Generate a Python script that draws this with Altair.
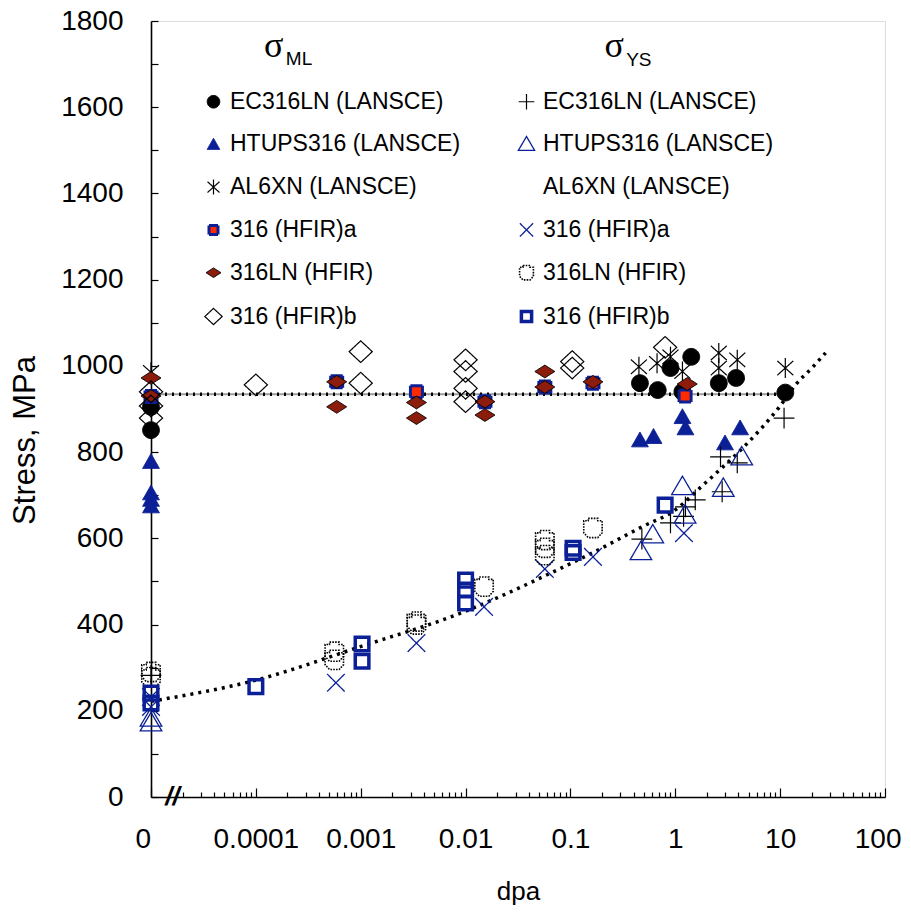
import altair as alt
import pandas as pd

# ---------------- data ----------------
ZERO_DPA = 1e-5  # where dose "0" sits on the broken log axis

# legend fills column by column: sigma_ML column first, then sigma_YS column
series_order = [
    "EC316LN (LANSCE) ML", "HTUPS316 (LANSCE) ML", "AL6XN (LANSCE) ML",
    "316 (HFIR)a ML", "316LN (HFIR) ML", "316 (HFIR)b ML",
    "EC316LN (LANSCE) YS", "HTUPS316 (LANSCE) YS", "AL6XN (LANSCE) YS",
    "316 (HFIR)a YS", "316LN (HFIR) YS", "316 (HFIR)b YS",
]

ec_ml_dpa = [0, 0, 0.46, 0.68, 0.9, 1.17, 1.42, 2.6, 3.8, 11.2]
ec_ml_mpa = [851, 905, 960, 944, 995, 940, 1021, 960, 972, 938]

ht_ml_dpa = [0, 0, 0, 0, 0.46, 0.62, 1.17, 1.25, 2.98, 4.15]
ht_ml_mpa = [778, 705, 690, 675, 828, 836, 882, 856, 821, 856]

al_ml_dpa = [0, 0.45, 0.67, 0.9, 1.17, 2.6, 2.6, 3.9, 11.2]
al_ml_mpa = [985, 998, 1006, 1021, 987, 1030, 995, 1014, 995]

ha_ml_dpa = [0, 5.9e-4, 3.4e-3, 0.0153, 0.057, 0.164, 1.24]
ha_ml_mpa = [929, 963, 940, 917, 951, 960, 930]

ln_ml_dpa = [0, 0, 5.9e-4, 5.9e-4, 3.4e-3, 3.4e-3, 0.0153, 0.0153, 0.057, 0.057, 0.164, 1.3]
ln_ml_mpa = [972, 930, 963, 905, 915, 879, 917, 886, 987, 951, 963, 958]

hb_ml_dpa = [0, 0, 0, 1e-4, 1e-3, 1e-3, 0.01, 0.01, 0.01, 0.01, 0.104, 0.104, 0.8]
hb_ml_mpa = [940, 907, 879, 956, 1033, 960, 1014, 987, 948, 917, 1010, 995, 1043]

ec_ys_dpa = [0, 0.48, 0.9, 1.2, 1.25, 1.55, 2.8, 2.7, 3.9, 10.9]
ec_ys_mpa = [282, 598, 636, 651, 673, 689, 708, 789, 775, 879]

ht_ys_dpa = [0, 0, 0.47, 0.61, 1.24, 1.17, 2.87, 4.3]
ht_ys_mpa = [183, 172, 569, 608, 654, 720, 716, 789]

ha_ys_dpa = [0, 0, 5.8e-4, 3.4e-3, 0.015, 0.057, 0.164, 1.21]
ha_ys_mpa = [232, 209, 265, 357, 441, 529, 557, 612]

ln_ys_dpa = [0, 0, 5.6e-4, 5.6e-4, 3.4e-3, 3.4e-3, 0.015, 0.057, 0.057, 0.057, 0.164]
ln_ys_mpa = [290, 278, 337, 318, 407, 400, 488, 596, 578, 561, 624]

hb_ys_dpa = [0, 0, 1e-4, 1.03e-3, 1.03e-3, 0.01, 0.01, 0.01, 0.106, 0.106, 0.8]
hb_ys_mpa = [241, 218, 256, 355, 315, 503, 480, 450, 577, 567, 677]

# fitted trend lines
ml_fit_dpa = [0, 13]
ml_fit_mpa = [934, 934]
ys_fit_dpa = [0, 1e-4, 1e-3, 1e-2, 0.0223, 0.0537, 0.161, 0.484, 1.0, 1.81,
              2.63, 4.37, 6.78, 9.85, 14.0, 20.4, 27.1]
ys_fit_mpa = [222, 271, 349, 431, 467, 510, 566, 627, 666, 722,
              758, 809, 858, 905, 956, 997, 1030]

# header annotations (sigma symbols) and axis-break mark
head_txt = ["σ", "σ"]
head_dpa = [1.48e-4, 0.261]
head_mpa = [1742, 1742]
sub_txt = ["ML", "YS"]
sub_dpa = [1.93e-4, 0.34]
sub_mpa = [1712, 1710]
break_txt = ["//"]
break_dpa = [1.6e-5]
break_mpa = [0]

# ---------------- styles ----------------
NAVY = "#0B1F96"
shape_range = [
    "M1.05,0A1.05,1.05,0,1,1,-1.05,0A1.05,1.05,0,1,1,1.05,0Z",   # EC ML filled circle
    "M0,-1L1.05,0.85L-1.05,0.85Z",                                # HT ML filled triangle
    "M-1,-0.9L1,0.9M-1,0.9L1,-0.9M0,-1.25L0,1.25",                # AL ML asterisk
    "M-0.75,-0.75L0.75,-0.75L0.75,0.75L-0.75,0.75Z",              # HFIR a ML square
    "M-1.25,0L0,-0.8L1.25,0L0,0.8Z",                              # 316LN ML diamond
    "M-1.45,0L0,-1.35L1.45,0L0,1.35Z",                            # HFIR b ML open diamond
    "M-1.3,0L1.3,0M0,-1.3L0,1.3",                                 # EC YS plus
    "M0,-1.3L1.35,1L-1.35,1Z",                                    # HT YS open triangle
    "M0,0",                                                       # AL YS (no symbol)
    "M-1.1,-1.1L1.1,1.1M-1.1,1.1L1.1,-1.1",                       # HFIR a YS x
    "M-0.6,-1.2L0.6,-1.2L0.6,-0.9L1.15,-0.9L1.15,0.6L0.6,1.2L-0.6,1.2L-1.15,0.6L-1.15,-0.9L-0.6,-0.9Z",
    "M-0.85,-0.85L0.85,-0.85L0.85,0.85L-0.85,0.85Z",              # HFIR b YS open square
]
fill_range = ["black", NAVY, "transparent", "#FF2A00", "#8C1C0C", "transparent",
              "transparent", "transparent", "transparent", "transparent", "transparent", "transparent"]
stroke_range = ["black", NAVY, "black", NAVY, "black", "black",
                "black", NAVY, "transparent", NAVY, "black", NAVY]
width_range = [1, 1, 1.2, 3, 1, 1.2, 1.2, 1.3, 1, 1.3, 1.6, 3.5]
dash_range = [[1, 0], [1, 0], [1, 0], [1, 0], [1, 0], [1, 0],
              [1, 0], [1, 0], [1, 0], [1, 0], [1.6, 1.2], [1, 0]]

# ---------------- tables ----------------
pts = []
groups = [
    ("EC316LN (LANSCE) ML", ec_ml_dpa, ec_ml_mpa),
    ("HTUPS316 (LANSCE) ML", ht_ml_dpa, ht_ml_mpa),
    ("AL6XN (LANSCE) ML", al_ml_dpa, al_ml_mpa),
    ("316 (HFIR)a ML", ha_ml_dpa, ha_ml_mpa),
    ("316LN (HFIR) ML", ln_ml_dpa, ln_ml_mpa),
    ("316 (HFIR)b ML", hb_ml_dpa, hb_ml_mpa),
    ("EC316LN (LANSCE) YS", ec_ys_dpa, ec_ys_mpa),
    ("HTUPS316 (LANSCE) YS", ht_ys_dpa, ht_ys_mpa),
    ("316 (HFIR)a YS", ha_ys_dpa, ha_ys_mpa),
    ("316LN (HFIR) YS", ln_ys_dpa, ln_ys_mpa),
    ("316 (HFIR)b YS", hb_ys_dpa, hb_ys_mpa),
]
for name, xs, ys in groups:
    for xv, yv in zip(xs, ys):
        pts.append({"series": name, "dpa": xv if xv > 0 else ZERO_DPA, "stress": yv})
points_df = pd.DataFrame(pts)

ml_df = pd.DataFrame({"dpa": [v if v > 0 else ZERO_DPA for v in ml_fit_dpa], "stress": ml_fit_mpa})
ys_df = pd.DataFrame({"dpa": [v if v > 0 else ZERO_DPA for v in ys_fit_dpa], "stress": ys_fit_mpa})
head_df = pd.DataFrame({"t": head_txt, "dpa": head_dpa, "stress": head_mpa})
sub_df = pd.DataFrame({"t": sub_txt, "dpa": sub_dpa, "stress": sub_mpa})
brk_df = pd.DataFrame({"t": break_txt, "dpa": break_dpa, "stress": break_mpa})

# ---------------- axes ----------------
FONT = "Liberation Sans"
x_ticks = [ZERO_DPA]
for e in range(-5, 2):
    for m in range(2, 10):
        x_ticks.append(m * 10.0 ** e)
    x_ticks.append(10.0 ** (e + 1))
decade_test = "abs(log(datum.value)/LN10 - round(log(datum.value)/LN10)) < 1e-6"

x_scale = alt.Scale(type="log", domain=[ZERO_DPA, 100], nice=False)
y_scale = alt.Scale(domain=[0, 1800], nice=False)

x_axis = alt.Axis(
    values=x_ticks,
    labelExpr=f"datum.value < 2e-5 ? '0' : ({decade_test} ? format(datum.value, '~g') : '')",
    tickSize={"condition": {"test": decade_test, "value": -9}, "value": -5},
    labelPadding=37, labelFontSize=28, labelFont=FONT, labelColor="black",
    labelFlush=True, labelFlushOffset=16, labelOverlap=False,
    title="dpa", titleFontSize=26, titleFont=FONT, titleFontWeight="normal",
    titleColor="black", titleY=81,
    domainColor="black", domainWidth=1.6, tickColor="black", tickWidth=1.2,
    grid=False,
)
y_axis = alt.Axis(
    values=list(range(0, 1801, 50)),
    labelExpr="datum.value % 200 == 0 ? format(datum.value, 'd') : ''",
    tickSize={"expr": "-7"},
    labelPadding=35, labelFontSize=28, labelFont=FONT, labelColor="black",
    labelFlush=False, labelOverlap=False,
    title="Stress, MPa", titleFontSize=31, titleFont=FONT, titleFontWeight="normal",
    titleColor="black", titleX=-110, titleY=419,
    domainColor="black", domainWidth=1.6, tickColor="black", tickWidth=1.2,
    grid=False,
)

X = alt.X("dpa:Q", scale=x_scale, axis=x_axis)
Y = alt.Y("stress:Q", scale=y_scale, axis=y_axis)
Xn = alt.X("dpa:Q", scale=x_scale)
Yn = alt.Y("stress:Q", scale=y_scale)

legend = alt.Legend(
    title=None, orient="none", legendX=51, legendY=69, columns=2,
    columnPadding=53, rowPadding=18.8, padding=0,
    labelFontSize=23, labelFont=FONT, labelColor="black", labelLimit=400,
    labelOffset=5, symbolSize=144,
    labelExpr="slice(datum.label, 0, -3)",
)

ml_line_gray = alt.Chart(ml_df).mark_line(color="#9a9a9a", strokeWidth=2).encode(x=X, y=Y)
ml_line_dots = alt.Chart(ml_df).mark_line(color="black", strokeWidth=3.5, strokeDash=[2, 5]).encode(x=Xn, y=Yn)
ys_line = alt.Chart(ys_df).mark_line(color="black", strokeWidth=3.5, strokeDash=[3, 5],
                                     interpolate="monotone").encode(x=Xn, y=Yn)

points = alt.Chart(points_df).mark_point(size=256, opacity=1, fillOpacity=1, strokeOpacity=1).encode(
    x=Xn, y=Yn,
    shape=alt.Shape("series:N", scale=alt.Scale(domain=series_order, range=shape_range), legend=legend),
    fill=alt.Fill("series:N", scale=alt.Scale(domain=series_order, range=fill_range), legend=legend),
    stroke=alt.Stroke("series:N", scale=alt.Scale(domain=series_order, range=stroke_range), legend=legend),
    strokeWidth=alt.StrokeWidth("series:N", scale=alt.Scale(type="ordinal", domain=series_order, range=width_range), legend=legend),
    strokeDash=alt.StrokeDash("series:N", scale=alt.Scale(domain=series_order, range=dash_range), legend=legend),
)

heads = alt.Chart(head_df).mark_text(font="Liberation Serif", fontSize=36, color="black",
                                     align="center", baseline="middle").encode(x=Xn, y=Yn, text="t:N")
subs = alt.Chart(sub_df).mark_text(font=FONT, fontSize=19, color="black",
                                   align="left", baseline="middle").encode(x=Xn, y=Yn, text="t:N")
brk = alt.Chart(brk_df).mark_text(font=FONT, fontSize=26, fontStyle="italic", fontWeight="bold",
                                  color="black", align="center", baseline="middle").encode(x=Xn, y=Yn, text="t:N")

chart = alt.layer(ml_line_gray, ml_line_dots, ys_line, points, heads, subs, brk).properties(
    width=734, height=776,
    autosize=alt.AutoSizeParams(type="none"),
    padding={"left": 143, "top": 13, "right": 16, "bottom": 112},
).configure_view(stroke="black", strokeWidth=1.5).configure(background="white")

chart.save("out.html", embed_options={"renderer": "svg", "actions": False})
